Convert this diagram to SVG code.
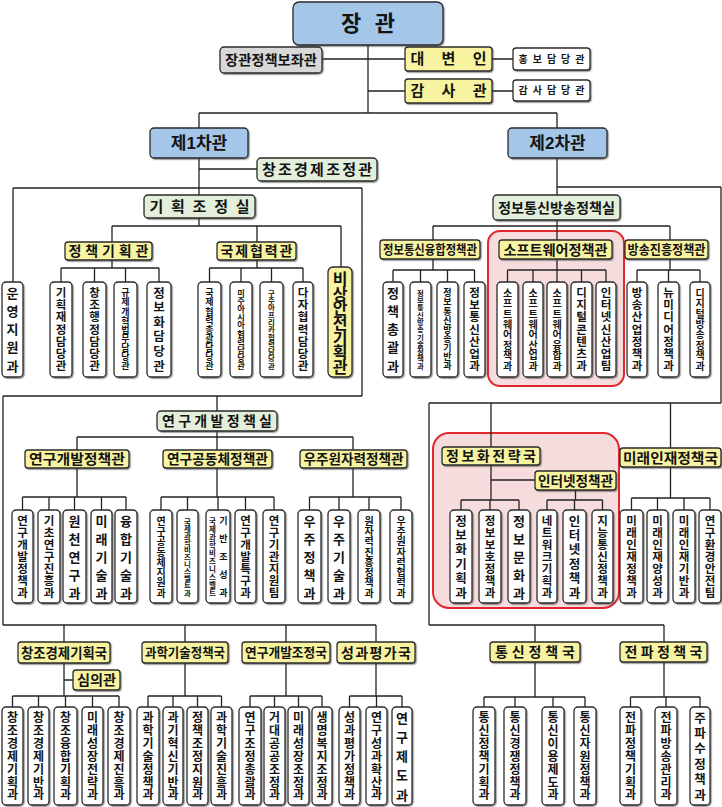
<svg xmlns="http://www.w3.org/2000/svg" width="722" height="807" viewBox="0 0 722 807">
<defs>
<filter id="sh" x="-20%" y="-20%" width="140%" height="140%"><feDropShadow dx="1.2" dy="1.2" stdDeviation="0.4" flood-color="#444" flood-opacity="0.55"/></filter>
<style>
.bx{stroke:#2a2a2a;stroke-width:1.3;filter:url(#sh)}
.w{fill:#fff}.y{fill:#f8f3a0}.g{fill:#e3eedb}.bl{fill:#a3c6e9}.gr{fill:#d8d8d8}
.ln{stroke:#222;stroke-width:1.3;fill:none}
.pk{fill:#f6dcdc;stroke:#e0282d;stroke-width:2}
text{font-family:'Liberation Sans','Noto Sans CJK KR',sans-serif;font-weight:700;fill:#141414;text-anchor:middle}
.f13{font-size:13px}.f12{font-size:12px}.f115{font-size:11.5px}.f125{font-size:12.5px}.f10{font-size:10px}.f9{font-size:9px}.f8{font-size:8.2px}.f7{font-size:7.4px}
.f14{font-size:14px}.f15{font-size:15px}
</style>
</defs>
<rect width="722" height="807" fill="#fff"/>
<g id="regions">
<rect class="pk" x="488" y="231" width="136" height="155" rx="12"/>
<rect class="pk" x="433" y="433" width="186" height="175" rx="16"/>
</g>
<g id="connectors">
<path class="ln" d="M368,45V113 M199,113H557 M199,113V128 M557,113V128 M322,59H405 M492,59H513 M368,91H405 M492,91H513
M199,158V195 M199,169H257 M13,188H362 M13,188V282 M362,188V396
M199,218V226 M112,226H341 M112,226V242 M257,226V242 M341,226V267
M112,260V268 M61,268H159 M61,268V282 M94.5,268V282 M125.5,268V282 M159,268V282
M257,260V268 M209.5,268H303 M209.5,268V282 M241,268V282 M271.5,268V282 M303,268V282
M3,396H362 M3,396V625 M217,396V411
M217,431V437 M77,437H353 M77,437V450 M217,437V450 M353,437V450
M77,468V497 M22.5,497H126 M22.5,497V510 M49,497V510 M74.5,497V510 M101.5,497V510 M126,497V510
M217,468V497 M161,497H274 M161,497V510 M187.5,497V510 M218,497V510 M245.5,497V510 M274,497V510
M353,468V497 M309.5,497H401 M309.5,497V510 M339,497V510 M369,497V510 M401,497V510
M557,158V195 M557,187H721 M721,187V403
M557,220V226 M433,226H670 M433,226V240 M557,226V240 M670,226V240
M433,259V270 M393,270H474.5 M393,270V282 M420.5,270V282 M447.5,270V282 M474.5,270V282
M557,259V270 M507.5,270H606 M507.5,270V282 M533,270V282 M557,270V282 M581.5,270V282 M606,270V282
M670,259V270 M637,270H700 M637,270V282 M668.5,270V282 M700,270V282
M429,403H721 M429,403V625 M491,403V447 M670.5,403V448
M491,465V500 M491,480H535 M461,500H519 M461,500V510 M490,500V510 M519,500V510
M575.5,490V500 M547,500H602.5 M547,500V510 M574.5,500V510 M602.5,500V510
M670.5,467V498 M631.5,498H710 M631.5,498V510 M657.5,498V510 M684,498V510 M710,498V510
M3,625H376 M64,625V642 M185,625V642 M286,625V642 M376,625V642
M64,663V696 M64,680H73 M12.5,696H119 M12.5,696V707 M38.5,696V707 M65.5,696V707 M92.5,696V707 M119,696V707
M185,663V696 M148,696H221.5 M148,696V707 M173,696V707 M197.5,696V707 M221.5,696V707
M286,663V696 M250,696H322 M250,696V707 M274.5,696V707 M298.5,696V707 M322,696V707
M376,663V696 M349.5,696H402 M349.5,696V707 M376.5,696V707 M402,696V707
M429,625H664 M535,625V642 M664,625V642
M535,662V697 M484,697H585 M484,697V707 M515,697V707 M553,697V707 M585,697V707
M664,662V697 M630.5,697H700 M630.5,697V707 M666,697V707 M700,697V707"/>
</g>

<!-- top -->
<g id="minister"><rect class="bx bl" x="293" y="2" width="150" height="43" rx="6"/><text x="368" y="31.4" style="font-size:22px" textLength="54">장 관</text></g>
<g id="policy-advisor"><rect class="bx gr" x="220" y="47" width="102" height="26" rx="4"/><text class="f14" x="271" y="65" textLength="92" lengthAdjust="spacingAndGlyphs">장관정책보좌관</text></g>
<g id="spokesman"><rect class="bx y" x="405" y="47" width="87" height="24" rx="3"/><text class="f15" x="448.5" y="64.4" textLength="76">대 변 인</text></g>
<g id="pr-officer"><rect class="bx w" x="513" y="48" width="77" height="22" rx="3"/><text class="f10" x="551.5" y="62.6" textLength="66">홍보담당관</text></g>
<g id="inspector"><rect class="bx y" x="405" y="79" width="87" height="24" rx="3"/><text class="f15" x="448.5" y="96.4" textLength="76">감 사 관</text></g>
<g id="audit-officer"><rect class="bx w" x="513" y="80" width="77" height="21" rx="3"/><text class="f10" x="551.5" y="94.1" textLength="66">감사담당관</text></g>
<g id="vice1"><rect class="bx bl" x="150" y="128" width="98" height="30" rx="4"/><text x="199" y="149.1" style="font-size:17px">제1차관</text></g>
<g id="vice2"><rect class="bx bl" x="508" y="128" width="99" height="30" rx="4"/><text x="557.5" y="149.1" style="font-size:17px">제2차관</text></g>

<!-- 1st vice -->
<g id="creative-coord"><rect class="bx g" x="257" y="158" width="120" height="23" rx="4"/><text class="f15" x="317" y="174.9" textLength="110">창조경제조정관</text></g>
<g id="planning-office"><rect class="bx g" x="144" y="195" width="111" height="23" rx="4"/><text class="f15" x="199.5" y="211.9" textLength="100">기획조정실</text></g>
<g id="policy-planning"><rect class="bx y" x="65" y="242" width="87" height="18" rx="3"/><text class="f14" x="108.5" y="256" textLength="80">정책기획관</text></g>
<g id="intl-coop"><rect class="bx y" x="217" y="242" width="79" height="18" rx="3"/><text class="f14" x="256.5" y="256" textLength="72">국제협력관</text></g>
<g id="emergency"><rect class="bx y" x="328" y="267" width="24" height="110" rx="5"/><text style="font-size:16px" x="340 340 340 340 340 340 340" y="284.8 299.5 314.1 328.8 343.5 358.1 372.8">비상안전기획관</text></g>

<g id="a1"><rect class="bx w" x="2" y="282" width="21" height="95" rx="4"/><text class="f13" x="12.5 12.5 12.5 12.5 12.5" y="297.7 315.9 334.2 352.4 370.7">운영지원과</text></g>
<g id="a2"><rect class="bx w" x="50" y="282" width="22" height="95" rx="4"/><text class="f115" x="61 61 61 61 61 61 61" y="297.1 309.3 321.4 333.6 345.8 357.9 370.1">기획재정담당관</text></g>
<g id="a3"><rect class="bx w" x="83" y="282" width="23" height="95" rx="4"/><text class="f115" x="94.5 94.5 94.5 94.5 94.5 94.5 94.5" y="297.1 309.3 321.4 333.6 345.8 357.9 370.1">창조행정담당관</text></g>
<g id="a4"><rect class="bx w" x="114" y="282" width="23" height="95" rx="4"/><text class="f9" x="125.5 125.5 125.5 125.5 125.5 125.5 125.5 125.5 125.5" y="296.2 305.3 314.5 323.6 332.7 341.8 351 360.1 369.2">규제개혁법무담당관</text></g>
<g id="a5"><rect class="bx w" x="147" y="282" width="24" height="95" rx="4"/><text class="f125" x="159 159 159 159 159 159" y="297.5 312.1 326.7 341.3 355.9 370.5">정보화담당관</text></g>
<g id="a6"><rect class="bx w" x="198" y="282" width="23" height="95" rx="4"/><text class="f9" x="209.5 209.5 209.5 209.5 209.5 209.5 209.5 209.5 209.5" y="296.2 305.3 314.5 323.6 332.7 341.8 351 360.1 369.2">국제협력총괄담당관</text></g>
<g id="a7"><rect class="bx w" x="230" y="282" width="22" height="95" rx="4"/><text class="f8" x="241 241 241 241 241 241 241 241 241 241" y="296 304.1 312.2 320.3 328.4 336.5 344.7 352.8 360.9 369">미주아시아협력담당관</text></g>
<g id="a8"><rect class="bx w" x="260" y="282" width="23" height="95" rx="4"/><text class="f7" x="271.5 271.5 271.5 271.5 271.5 271.5 271.5 271.5 271.5 271.5 271.5" y="295.7 303 310.3 317.6 324.9 332.2 339.5 346.8 354.1 361.4 368.7">구주아프리카협력담당관</text></g>
<g id="a9"><rect class="bx w" x="293" y="282" width="20" height="95" rx="4"/><text class="f115" x="303 303 303 303 303 303 303" y="297.1 309.3 321.4 333.6 345.8 357.9 370.1">다자협력담당관</text></g>

<!-- 2nd vice -->
<g id="ict-office"><rect class="bx g" x="493" y="195" width="127" height="25" rx="4"/><text class="f14" x="556.5" y="212.5" textLength="117" lengthAdjust="spacingAndGlyphs">정보통신방송정책실</text></g>
<g id="ict-conv"><rect class="bx y" x="380" y="240" width="100" height="19" rx="3"/><text class="f13" x="430" y="254.2" textLength="94" lengthAdjust="spacingAndGlyphs">정보통신융합정책관</text></g>
<g id="sw-policy"><rect class="bx y" x="499" y="240" width="113" height="19" rx="3"/><text class="f14" x="555.5" y="254.5" textLength="104" lengthAdjust="spacingAndGlyphs">소프트웨어정책관</text></g>
<g id="broadcast"><rect class="bx y" x="625" y="240" width="83" height="19" rx="3"/><text class="f13" x="666.5" y="254.2" textLength="78" lengthAdjust="spacingAndGlyphs">방송진흥정책관</text></g>

<g id="b1"><rect class="bx w" x="383" y="282" width="20" height="95" rx="4"/><text class="f13" x="393 393 393 393 393" y="297.7 315.9 334.2 352.4 370.7">정책총괄과</text></g>
<g id="b2"><rect class="bx w" x="410" y="282" width="21" height="95" rx="4"/><text class="f7" x="420.5 420.5 420.5 420.5 420.5 420.5 420.5 420.5 420.5 420.5 420.5" y="295.7 303 310.3 317.6 324.9 332.2 339.5 346.8 354.1 361.4 368.7">정보통신방송기술정책과</text></g>
<g id="b3"><rect class="bx w" x="437" y="282" width="21" height="95" rx="4"/><text class="f9" x="447.5 447.5 447.5 447.5 447.5 447.5 447.5 447.5 447.5" y="296.2 305.3 314.5 323.6 332.7 341.8 351 360.1 369.2">정보통신방송기반과</text></g>
<g id="b4"><rect class="bx w" x="464" y="282" width="21" height="95" rx="4"/><text class="f115" x="474.5 474.5 474.5 474.5 474.5 474.5 474.5" y="297.1 309.3 321.4 333.6 345.8 357.9 370.1">정보통신산업과</text></g>
<g id="b5"><rect class="bx w" x="497" y="282" width="21" height="95" rx="4"/><text class="f10" x="507.5 507.5 507.5 507.5 507.5 507.5 507.5 507.5" y="296.6 307 317.5 327.9 338.3 348.8 359.2 369.6">소프트웨어정책과</text></g>
<g id="b6"><rect class="bx w" x="523" y="282" width="20" height="95" rx="4"/><text class="f10" x="533 533 533 533 533 533 533 533" y="296.6 307 317.5 327.9 338.3 348.8 359.2 369.6">소프트웨어산업과</text></g>
<g id="b7"><rect class="bx w" x="547" y="282" width="20" height="95" rx="4"/><text class="f10" x="557 557 557 557 557 557 557 557" y="296.6 307 317.5 327.9 338.3 348.8 359.2 369.6">소프트웨어융합과</text></g>
<g id="b8"><rect class="bx w" x="571" y="282" width="21" height="95" rx="4"/><text class="f115" x="581.5 581.5 581.5 581.5 581.5 581.5 581.5" y="297.1 309.3 321.4 333.6 345.8 357.9 370.1">디지털콘텐츠과</text></g>
<g id="b9"><rect class="bx w" x="596" y="282" width="20" height="95" rx="4"/><text class="f115" x="606 606 606 606 606 606 606" y="297.1 309.3 321.4 333.6 345.8 357.9 370.1">인터넷신산업팀</text></g>
<g id="b10"><rect class="bx w" x="627" y="282" width="20" height="95" rx="4"/><text class="f115" x="637 637 637 637 637 637 637" y="297.1 309.3 321.4 333.6 345.8 357.9 370.1">방송산업정책과</text></g>
<g id="b11"><rect class="bx w" x="658" y="282" width="21" height="95" rx="4"/><text class="f115" x="668.5 668.5 668.5 668.5 668.5 668.5 668.5" y="297.1 309.3 321.4 333.6 345.8 357.9 370.1">뉴미디어정책과</text></g>
<g id="b12"><rect class="bx w" x="690" y="282" width="20" height="95" rx="4"/><text class="f10" x="700 700 700 700 700 700 700 700" y="296.6 307 317.5 327.9 338.3 348.8 359.2 369.6">디지털방송정책과</text></g>

<!-- R&D office -->
<g id="rnd-office"><rect class="bx g" x="157" y="411" width="120" height="20" rx="4"/><text class="f14" x="217" y="426" textLength="110">연구개발정책실</text></g>
<g id="rnd-policy"><rect class="bx y" x="25" y="450" width="104" height="18" rx="3"/><text class="f14" x="77" y="464" textLength="96" lengthAdjust="spacingAndGlyphs">연구개발정책관</text></g>
<g id="research-comm"><rect class="bx y" x="163" y="450" width="109" height="18" rx="3"/><text class="f14" x="217.5" y="464" textLength="101" lengthAdjust="spacingAndGlyphs">연구공동체정책관</text></g>
<g id="space-nuclear"><rect class="bx y" x="300" y="450" width="107" height="18" rx="3"/><text class="f14" x="353.5" y="464" textLength="100" lengthAdjust="spacingAndGlyphs">우주원자력정책관</text></g>

<g id="c1"><rect class="bx w" x="12" y="510" width="21" height="93" rx="4"/><text class="f115" x="22.5 22.5 22.5 22.5 22.5 22.5 22.5" y="525.1 537.1 549.1 561.1 573.1 585.1 597.1">연구개발정책과</text></g>
<g id="c2"><rect class="bx w" x="38" y="510" width="22" height="93" rx="4"/><text class="f115" x="49 49 49 49 49 49 49" y="525.1 537.1 549.1 561.1 573.1 585.1 597.1">기초연구진흥과</text></g>
<g id="c3"><rect class="bx w" x="63" y="510" width="23" height="93" rx="4"/><text class="f13" x="74.5 74.5 74.5 74.5 74.5" y="525.7 543.7 561.7 579.7 597.7">원천연구과</text></g>
<g id="c4"><rect class="bx w" x="91" y="510" width="21" height="93" rx="4"/><text class="f13" x="101.5 101.5 101.5 101.5 101.5" y="525.7 543.7 561.7 579.7 597.7">미래기술과</text></g>
<g id="c5"><rect class="bx w" x="115" y="510" width="22" height="93" rx="4"/><text class="f13" x="126 126 126 126 126" y="525.7 543.7 561.7 579.7 597.7">융합기술과</text></g>
<g id="c6"><rect class="bx w" x="150" y="510" width="22" height="93" rx="4"/><text class="f10" x="161 161 161 161 161 161 161 161" y="524.6 534.9 545.2 555.5 565.8 576 586.3 596.6">연구공동체지원과</text></g>
<g id="c7"><rect class="bx w" x="177" y="510" width="21" height="93" rx="4"/><text class="f7" x="187.5 187.5 187.5 187.5 187.5 187.5 187.5 187.5 187.5 187.5 187.5" y="523.6 530.8 538 545.2 552.4 559.6 566.8 574 581.2 588.4 595.6">국제과학비즈니스벨트과</text></g>
<g id="c8"><rect class="bx w" x="206" y="510" width="24" height="93" rx="4"/><text style="font-size:7.5px" x="212.5 212.5 212.5 212.5 212.5 212.5 212.5 212.5 212.5 212.5" y="523.7 531.7 539.7 547.7 555.7 563.7 571.7 579.7 587.7 595.7">국제과학비즈니스벨트</text><text class="f9" x="223.5 223.5 223.5 223.5 223.5" y="524.2 542.2 560.2 578.2 596.2">기반조성과</text></g>
<g id="c9"><rect class="bx w" x="235" y="510" width="21" height="93" rx="4"/><text class="f115" x="245.5 245.5 245.5 245.5 245.5 245.5 245.5" y="525.1 537.1 549.1 561.1 573.1 585.1 597.1">연구개발특구과</text></g>
<g id="c10"><rect class="bx w" x="263" y="510" width="22" height="93" rx="4"/><text class="f115" x="274 274 274 274 274 274 274" y="525.1 537.1 549.1 561.1 573.1 585.1 597.1">연구기관지원팀</text></g>
<g id="c11"><rect class="bx w" x="298" y="510" width="23" height="93" rx="4"/><text class="f13" x="309.5 309.5 309.5 309.5 309.5" y="525.7 543.7 561.7 579.7 597.7">우주정책과</text></g>
<g id="c12"><rect class="bx w" x="328" y="510" width="22" height="93" rx="4"/><text class="f13" x="339 339 339 339 339" y="525.7 543.7 561.7 579.7 597.7">우주기술과</text></g>
<g id="c13"><rect class="bx w" x="358" y="510" width="22" height="93" rx="4"/><text class="f10" x="369 369 369 369 369 369 369 369" y="524.6 534.9 545.2 555.5 565.8 576 586.3 596.6">원자력진흥정책과</text></g>
<g id="c14"><rect class="bx w" x="390" y="510" width="22" height="93" rx="4"/><text class="f10" x="401 401 401 401 401 401 401 401" y="524.6 534.9 545.2 555.5 565.8 576 586.3 596.6">우주원자력협력과</text></g>

<!-- informatization / future talent -->
<g id="info-strategy"><rect class="bx y" x="442" y="447" width="98" height="18" rx="3"/><text class="f14" x="491" y="461" textLength="90">정보화전략국</text></g>
<g id="internet-policy"><rect class="bx y" x="535" y="471" width="81" height="19" rx="3"/><text class="f14" x="575.5" y="485.5" textLength="75" lengthAdjust="spacingAndGlyphs">인터넷정책관</text></g>
<g id="future-talent"><rect class="bx y" x="620" y="448" width="101" height="19" rx="3"/><text class="f14" x="670.5" y="462.5" textLength="95" lengthAdjust="spacingAndGlyphs">미래인재정책국</text></g>

<g id="d1"><rect class="bx w" x="450" y="510" width="22" height="93" rx="4"/><text class="f125" x="461 461 461 461 461 461" y="525.5 539.9 554.3 568.7 583.1 597.5">정보화기획과</text></g>
<g id="d2"><rect class="bx w" x="479" y="510" width="22" height="93" rx="4"/><text class="f115" x="490 490 490 490 490 490 490" y="525.1 537.1 549.1 561.1 573.1 585.1 597.1">정보보호정책과</text></g>
<g id="d3"><rect class="bx w" x="508" y="510" width="22" height="93" rx="4"/><text class="f13" x="519 519 519 519 519" y="525.7 543.7 561.7 579.7 597.7">정보문화과</text></g>
<g id="d4"><rect class="bx w" x="537" y="510" width="20" height="93" rx="4"/><text class="f115" x="547 547 547 547 547 547 547" y="525.1 537.1 549.1 561.1 573.1 585.1 597.1">네트워크기획과</text></g>
<g id="d5"><rect class="bx w" x="563" y="510" width="23" height="93" rx="4"/><text class="f125" x="574.5 574.5 574.5 574.5 574.5 574.5" y="525.5 539.9 554.3 568.7 583.1 597.5">인터넷정책과</text></g>
<g id="d6"><rect class="bx w" x="592" y="510" width="21" height="93" rx="4"/><text class="f115" x="602.5 602.5 602.5 602.5 602.5 602.5 602.5" y="525.1 537.1 549.1 561.1 573.1 585.1 597.1">지능통신정책과</text></g>
<g id="d7"><rect class="bx w" x="620" y="510" width="23" height="93" rx="4"/><text class="f115" x="631.5 631.5 631.5 631.5 631.5 631.5 631.5" y="525.1 537.1 549.1 561.1 573.1 585.1 597.1">미래인재정책과</text></g>
<g id="d8"><rect class="bx w" x="647" y="510" width="21" height="93" rx="4"/><text class="f115" x="657.5 657.5 657.5 657.5 657.5 657.5 657.5" y="525.1 537.1 549.1 561.1 573.1 585.1 597.1">미래인재양성과</text></g>
<g id="d9"><rect class="bx w" x="673" y="510" width="22" height="93" rx="4"/><text class="f115" x="684 684 684 684 684 684 684" y="525.1 537.1 549.1 561.1 573.1 585.1 597.1">미래인재기반과</text></g>
<g id="d10"><rect class="bx w" x="699" y="510" width="22" height="93" rx="4"/><text class="f115" x="710 710 710 710 710 710 710" y="525.1 537.1 549.1 561.1 573.1 585.1 597.1">연구환경안전팀</text></g>

<!-- bottom bureaus -->
<g id="creative-planning"><rect class="bx y" x="18" y="642" width="92" height="21" rx="3"/><text class="f14" x="64" y="657.5" textLength="86" lengthAdjust="spacingAndGlyphs">창조경제기획국</text></g>
<g id="deliberation"><rect class="bx y" x="73" y="670" width="47" height="20" rx="3"/><text class="f14" x="96.5" y="685" textLength="39" lengthAdjust="spacingAndGlyphs">심의관</text></g>
<g id="sci-tech"><rect class="bx y" x="142" y="642" width="86" height="21" rx="3"/><text class="f13" x="185" y="657.2" textLength="80" lengthAdjust="spacingAndGlyphs">과학기술정책국</text></g>
<g id="rnd-coord"><rect class="bx y" x="242" y="642" width="88" height="21" rx="3"/><text class="f13" x="286" y="657.2" textLength="82" lengthAdjust="spacingAndGlyphs">연구개발조정국</text></g>
<g id="evaluation"><rect class="bx y" x="337" y="642" width="78" height="21" rx="3"/><text class="f14" x="376" y="657.5" textLength="70">성과평가국</text></g>
<g id="telecom"><rect class="bx y" x="490" y="642" width="90" height="20" rx="3"/><text class="f14" x="535" y="657" textLength="80">통신정책국</text></g>
<g id="radio"><rect class="bx y" x="620" y="642" width="87" height="20" rx="3"/><text class="f14" x="663.5" y="657" textLength="78">전파정책국</text></g>

<g id="e1"><rect class="bx w" x="2" y="707" width="21" height="98" rx="4"/><text class="f12" x="12.5 12.5 12.5 12.5 12.5 12.5 12.5" y="722.3 735.1 748 760.8 773.6 786.5 799.3">창조경제기획과</text></g>
<g id="e2"><rect class="bx w" x="28" y="707" width="21" height="98" rx="4"/><text class="f12" x="38.5 38.5 38.5 38.5 38.5 38.5 38.5" y="722.3 735.1 748 760.8 773.6 786.5 799.3">창조경제기반과</text></g>
<g id="e3"><rect class="bx w" x="54" y="707" width="23" height="98" rx="4"/><text class="f12" x="65.5 65.5 65.5 65.5 65.5 65.5 65.5" y="722.3 735.1 748 760.8 773.6 786.5 799.3">창조융합기획과</text></g>
<g id="e4"><rect class="bx w" x="82" y="707" width="21" height="98" rx="4"/><text class="f12" x="92.5 92.5 92.5 92.5 92.5 92.5 92.5" y="722.3 735.1 748 760.8 773.6 786.5 799.3">미래성장전략과</text></g>
<g id="e5"><rect class="bx w" x="108" y="707" width="22" height="98" rx="4"/><text class="f12" x="119 119 119 119 119 119 119" y="722.3 735.1 748 760.8 773.6 786.5 799.3">창조경제진흥과</text></g>
<g id="e6"><rect class="bx w" x="137" y="707" width="22" height="98" rx="4"/><text class="f12" x="148 148 148 148 148 148 148" y="722.3 735.1 748 760.8 773.6 786.5 799.3">과학기술정책과</text></g>
<g id="e7"><rect class="bx w" x="163" y="707" width="20" height="98" rx="4"/><text class="f12" x="173 173 173 173 173 173 173" y="722.3 735.1 748 760.8 773.6 786.5 799.3">과기혁신기반과</text></g>
<g id="e8"><rect class="bx w" x="187" y="707" width="21" height="98" rx="4"/><text class="f12" x="197.5 197.5 197.5 197.5 197.5 197.5 197.5" y="722.3 735.1 748 760.8 773.6 786.5 799.3">정책조정지원과</text></g>
<g id="e9"><rect class="bx w" x="211" y="707" width="21" height="98" rx="4"/><text class="f12" x="221.5 221.5 221.5 221.5 221.5 221.5 221.5" y="722.3 735.1 748 760.8 773.6 786.5 799.3">과학기술진흥과</text></g>
<g id="e10"><rect class="bx w" x="239" y="707" width="22" height="98" rx="4"/><text class="f12" x="250 250 250 250 250 250 250" y="722.3 735.1 748 760.8 773.6 786.5 799.3">연구조정총괄과</text></g>
<g id="e11"><rect class="bx w" x="264" y="707" width="21" height="98" rx="4"/><text class="f12" x="274.5 274.5 274.5 274.5 274.5 274.5 274.5" y="722.3 735.1 748 760.8 773.6 786.5 799.3">거대공공조정과</text></g>
<g id="e12"><rect class="bx w" x="288" y="707" width="21" height="98" rx="4"/><text class="f12" x="298.5 298.5 298.5 298.5 298.5 298.5 298.5" y="722.3 735.1 748 760.8 773.6 786.5 799.3">미래성장조정과</text></g>
<g id="e13"><rect class="bx w" x="312" y="707" width="20" height="98" rx="4"/><text class="f12" x="322 322 322 322 322 322 322" y="722.3 735.1 748 760.8 773.6 786.5 799.3">생명복지조정과</text></g>
<g id="e14"><rect class="bx w" x="339" y="707" width="21" height="98" rx="4"/><text class="f12" x="349.5 349.5 349.5 349.5 349.5 349.5 349.5" y="722.3 735.1 748 760.8 773.6 786.5 799.3">성과평가정책과</text></g>
<g id="e15"><rect class="bx w" x="366" y="707" width="21" height="98" rx="4"/><text class="f12" x="376.5 376.5 376.5 376.5 376.5 376.5 376.5" y="722.3 735.1 748 760.8 773.6 786.5 799.3">연구성과확산과</text></g>
<g id="e16"><rect class="bx w" x="392" y="707" width="20" height="98" rx="4"/><text class="f13" x="402 402 402 402 402" y="722.7 741.9 761.2 780.4 799.7">연구제도과</text></g>
<g id="e17"><rect class="bx w" x="473" y="707" width="22" height="98" rx="4"/><text class="f12" x="484 484 484 484 484 484 484" y="722.3 735.1 748 760.8 773.6 786.5 799.3">통신정책기획과</text></g>
<g id="e18"><rect class="bx w" x="504" y="707" width="22" height="98" rx="4"/><text class="f12" x="515 515 515 515 515 515 515" y="722.3 735.1 748 760.8 773.6 786.5 799.3">통신경쟁정책과</text></g>
<g id="e19"><rect class="bx w" x="542" y="707" width="22" height="98" rx="4"/><text class="f12" x="553 553 553 553 553 553 553" y="722.3 735.1 748 760.8 773.6 786.5 799.3">통신이용제도과</text></g>
<g id="e20"><rect class="bx w" x="574" y="707" width="22" height="98" rx="4"/><text class="f12" x="585 585 585 585 585 585 585" y="722.3 735.1 748 760.8 773.6 786.5 799.3">통신자원정책과</text></g>
<g id="e21"><rect class="bx w" x="620" y="707" width="21" height="98" rx="4"/><text class="f12" x="630.5 630.5 630.5 630.5 630.5 630.5 630.5" y="722.3 735.1 748 760.8 773.6 786.5 799.3">전파정책기획과</text></g>
<g id="e22"><rect class="bx w" x="655" y="707" width="22" height="98" rx="4"/><text class="f12" x="666 666 666 666 666 666 666" y="722.3 735.1 748 760.8 773.6 786.5 799.3">전파방송관리과</text></g>
<g id="e23"><rect class="bx w" x="690" y="707" width="20" height="98" rx="4"/><text class="f125" x="700 700 700 700 700 700" y="722.5 737.9 753.3 768.7 784.1 799.5">주파수정책과</text></g>
</svg>
